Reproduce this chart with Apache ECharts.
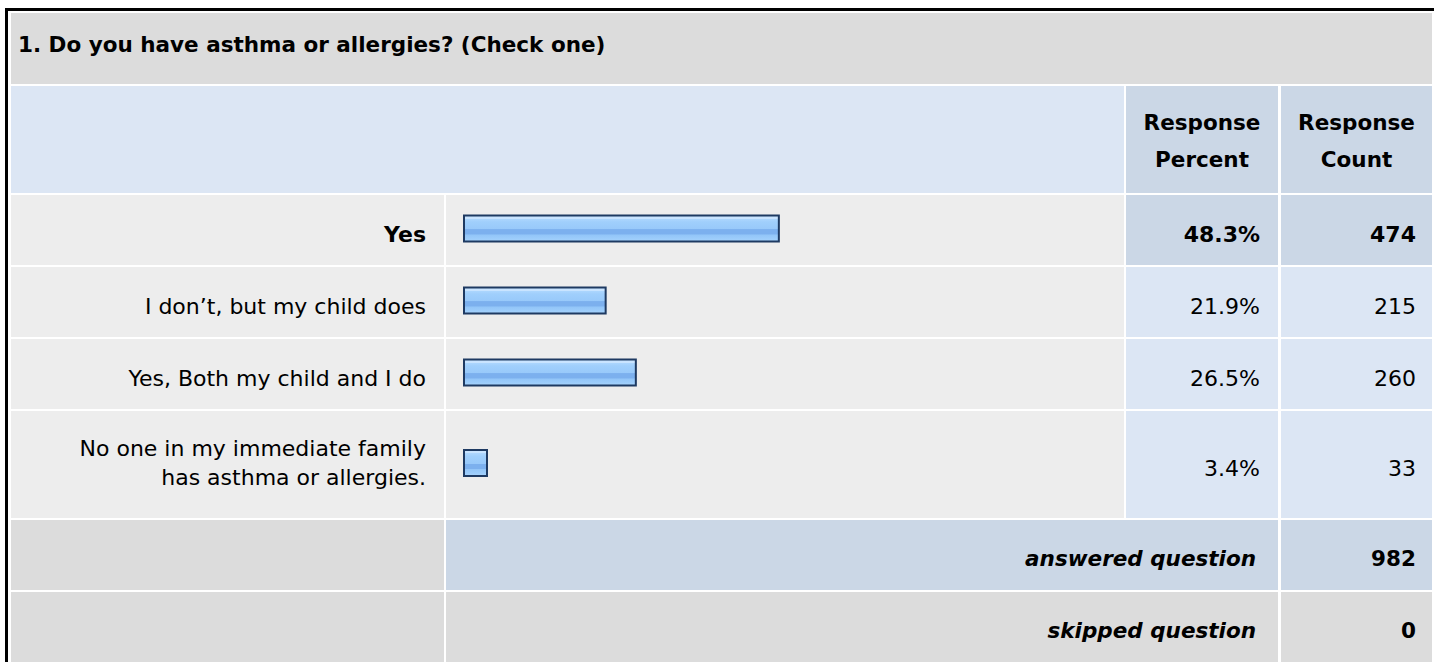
<!DOCTYPE html>
<html>
<head>
<meta charset="utf-8">
<script src="https://cdn.jsdelivr.net/npm/echarts@6/dist/echarts.min.js"></script>
<style>
  html, body { margin: 0; padding: 0; background: #fff; }
  /* 图表容器 */
  #chart { width: 1434px; height: 662px; }
</style>
</head>
<body>
<div id="chart"></div>
<script>
// 数据
const question = '1. Do you have asthma or allergies? (Check one)'
const answerLabels = [
  'Yes',
  'I don’t, but my child does',
  'Yes, Both my child and I do',
  'No one in my immediate family\nhas asthma or allergies.'
]
const responsePercent = [48.3, 21.9, 26.5, 3.4]
const responseCount = [474, 215, 260, 33]
const headerLabels = ['Response\nPercent', 'Response\nCount']
const summaryLabels = ['answered question', 'skipped question']
const summaryCounts = [982, 0]
const boldRow = 0

// 版面（像素）
const FONT = 'DejaVu Sans'
const colLabel = [11, 444]
const colBar = [446, 1124]
const colPct = [1126, 1278]
const colCnt = [1281, 1432]
const rowTitle = [13, 84]
const rowHead = [86, 193]
const answerRows = [[195, 265], [267, 337], [339, 409], [411, 518]]
const summaryRows = [[520, 590], [592, 662]]
const barLeft = 463
const barSpan = 656

const GREY = '#dcdcdc'
const LIGHT = '#ededed'
const BLUE = '#dce6f4'
const BLUE2 = '#cbd7e6'

const mid = (r) => (r[0] + r[1]) / 2

const rect = (c, r, fill) => ({
  type: 'rect',
  z: -10,
  silent: true,
  shape: { x: c[0], y: r[0], width: c[1] - c[0], height: r[1] - r[0] },
  style: { fill }
})

const text = (x, y, str, opts) => ({
  type: 'text',
  z: 10,
  silent: true,
  x,
  y,
  style: Object.assign({
    text: str,
    fill: '#000',
    fontFamily: FONT,
    fontSize: 22,
    textVerticalAlign: 'middle',
    verticalAlign: 'middle'
  }, opts)
})

// 条形渐变
const barFill = new echarts.graphic.LinearGradient(0, 0, 0, 1, [
  { offset: 0, color: '#c9e4ff' },
  { offset: 0.12, color: '#c9e4ff' },
  { offset: 0.12, color: '#aed7fe' },
  { offset: 0.25, color: '#a0cffc' },
  { offset: 0.52, color: '#98c9fa' },
  { offset: 0.54, color: '#7cb0ee' },
  { offset: 0.72, color: '#7cb0ee' },
  { offset: 0.74, color: '#92c5f8' },
  { offset: 0.9, color: '#9dcdfb' },
  { offset: 1, color: '#a9d4fc' }
])

const initChart = () => {
  const chart = echarts.init(document.getElementById('chart'), null, { renderer: 'svg' })

  // 背景单元格
  const cells = [
    rect([colLabel[0], colCnt[1]], rowTitle, GREY),
    rect([colLabel[0], colBar[1]], rowHead, BLUE),
    rect(colPct, rowHead, BLUE2),
    rect(colCnt, rowHead, BLUE2)
  ]
  answerRows.forEach((r, i) => {
    const side = i === boldRow ? BLUE2 : BLUE
    cells.push(rect(colLabel, r, LIGHT), rect(colBar, r, LIGHT), rect(colPct, r, side), rect(colCnt, r, side))
  })
  cells.push(
    rect(colLabel, summaryRows[0], GREY),
    rect([colBar[0], colPct[1]], summaryRows[0], BLUE2),
    rect(colCnt, summaryRows[0], BLUE2),
    rect(colLabel, summaryRows[1], GREY),
    rect([colBar[0], colPct[1]], summaryRows[1], GREY),
    rect(colCnt, summaryRows[1], GREY)
  )

  // 文字
  const texts = [
    text(18, 44, question, { fontWeight: 'bold', fontSize: 21.5 }),
    text(mid(colPct), 141, headerLabels[0], { fontWeight: 'bold', fontSize: 21.5, align: 'center', textAlign: 'center', lineHeight: 37 }),
    text(mid(colCnt), 141, headerLabels[1], { fontWeight: 'bold', fontSize: 21.5, align: 'center', textAlign: 'center', lineHeight: 37 })
  ]
  answerRows.forEach((r, i) => {
    const w = i === boldRow ? 'bold' : 'normal'
    texts.push(
      text(colPct[1] - 18, mid(r) + 4, responsePercent[i].toFixed(1) + '%', { fontWeight: w, align: 'right', textAlign: 'right' }),
      text(colCnt[1] - 16, mid(r) + 4, String(responseCount[i]), { fontWeight: w, align: 'right', textAlign: 'right' })
    )
  })
  summaryRows.forEach((r, i) => {
    texts.push(
      text(colPct[1] - 22, mid(r) + 3, summaryLabels[i], { fontWeight: 'bold', fontStyle: 'italic', fontSize: 21.5, align: 'right', textAlign: 'right' }),
      text(colCnt[1] - 16, mid(r) + 3, String(summaryCounts[i]), { fontWeight: 'bold', fontSize: 21.5, align: 'right', textAlign: 'right' })
    )
  })

  // 外框
  const frame = {
    type: 'rect',
    z: 20,
    silent: true,
    shape: { x: 6.5, y: 9.5, width: 1500, height: 720 },
    style: { fill: 'none', stroke: '#000', lineWidth: 3 }
  }

  // 每个答案一行一个 grid（行高不同）
  const grid = [], xAxis = [], yAxis = [], series = []
  answerRows.forEach((r, i) => {
    const c = mid(r) - 1.5
    const twoLine = answerLabels[i].indexOf('\n') >= 0
    grid.push({ left: barLeft, width: barSpan, top: c - 15, height: 30 })
    xAxis.push({ gridIndex: i, type: 'value', min: 0, max: 100, show: false })
    yAxis.push({
      gridIndex: i,
      type: 'category',
      data: [answerLabels[i]],
      axisLine: { show: false },
      axisTick: { show: false },
      splitLine: { show: false },
      axisLabel: {
        margin: barLeft - 426,
        color: '#000',
        fontFamily: FONT,
        fontSize: 22,
        fontWeight: i === boldRow ? 'bold' : 'normal',
        // 单行文字比条形略低
        verticalAlign: twoLine ? 'middle' : 'top',
        lineHeight: twoLine ? 29 : 11
      }
    })
    series.push({
      type: 'bar',
      xAxisIndex: i,
      yAxisIndex: i,
      barWidth: 28,
      barMinHeight: 25,
      silent: true,
      data: [responsePercent[i]],
      itemStyle: { color: barFill, borderColor: '#1e3a62', borderWidth: 2 }
    })
  })

  chart.setOption({
    animation: false,
    backgroundColor: '#fff',
    grid,
    xAxis,
    yAxis,
    series,
    graphic: cells.concat(texts, [frame])
  })
}

initChart()
</script>
</body>
</html>
